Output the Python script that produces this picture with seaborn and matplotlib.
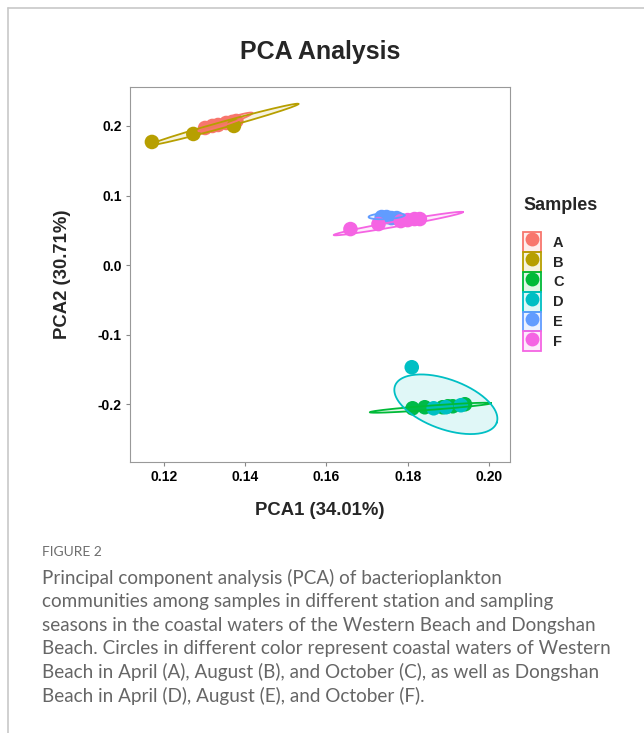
import numpy as np
import pandas as pd
import matplotlib
matplotlib.use("Agg")
import matplotlib.pyplot as plt
from matplotlib.patches import Rectangle
from matplotlib.lines import Line2D
from matplotlib.legend_handler import HandlerTuple
import seaborn as sns

# ---------------- data ----------------
groups = ["A", "B", "C", "D", "E", "F"]
colors = ["#F8766D", "#B79F00", "#00BA38", "#00BFC4", "#619CFF", "#F564E3"]

a_x = [0.1301, 0.1319, 0.1333, 0.1353, 0.1368, 0.1378]
a_y = [0.1971, 0.2000, 0.2014, 0.2043, 0.2058, 0.2072]
b_x = [0.1170, 0.1272, 0.1372]
b_y = [0.1770, 0.1885, 0.2000]
c_x = [0.1812, 0.1842, 0.1886, 0.1899, 0.1911, 0.1941]
c_y = [-0.2058, -0.2043, -0.2043, -0.2029, -0.2029, -0.2000]
d_x = [0.1810, 0.1864, 0.1894, 0.1931]
d_y = [-0.1468, -0.2058, -0.2043, -0.2014]
e_x = [0.1736, 0.1748, 0.1760, 0.1773]
e_y = [0.0691, 0.0691, 0.0676, 0.0676]
f_x = [0.1659, 0.1728, 0.1783, 0.1800, 0.1817, 0.1830]
f_y = [0.0518, 0.0590, 0.0633, 0.0647, 0.0662, 0.0662]

# confidence ellipses: centre, semi-major half vector (data units), minor/major ratio
ell_cx = [0.1351, 0.1348, 0.1856, 0.1894, 0.1748, 0.1777]
ell_cy = [0.2058, 0.2022, -0.2050, -0.2000, 0.0705, 0.0597]
ell_dx = [0.00667, 0.0183, 0.01494, 0.01252, 0.00444, 0.01593]
ell_dy = [0.0129, 0.0295, 0.0065, -0.0266, 0.0014, 0.0165]
ell_ratio = [0.10, 0.04, 0.035, 0.46, 0.17, 0.04]

xticks = [0.12, 0.14, 0.16, 0.18, 0.20]
yticks = [-0.2, -0.1, 0.0, 0.1, 0.2]

caption_lines = [
    "Principal component analysis (PCA) of bacterioplankton",
    "communities among samples in different station and sampling",
    "seasons in the coastal waters of the Western Beach and Dongshan",
    "Beach. Circles in different color represent coastal waters of Western",
    "Beach in April (A), August (B), and October (C), as well as Dongshan",
    "Beach in April (D), August (E), and October (F).",
]

xs = [a_x, b_x, c_x, d_x, e_x, f_x]
ys = [a_y, b_y, c_y, d_y, e_y, f_y]
df = pd.DataFrame({
    "PCA1": sum(xs, []),
    "PCA2": sum(ys, []),
    "Samples": sum([[g] * len(x) for g, x in zip(groups, xs)], []),
})

# ---------------- figure ----------------
sns.set_theme(style="white")
plt.rcParams["font.family"] = ["Liberation Sans", "DejaVu Sans"]

W, H = 644, 733
fig = plt.figure(figsize=(W / 100, H / 100), dpi=100)
ax = fig.add_axes([130 / W, 1 - 462 / H, 380 / W, 375 / H])

palette = dict(zip(groups, colors))
sns.scatterplot(data=df, x="PCA1", y="PCA2", hue="Samples", palette=palette,
                s=110, linewidth=0, alpha=1, legend=False, ax=ax, zorder=3)

ax.set_xlim(0.1116, 0.2052)
ax.set_ylim(-0.283, 0.256)
ax.set_xticks(xticks)
ax.set_xticklabels([f"{v:.2f}" for v in xticks])
ax.set_yticks(yticks)
ax.set_yticklabels([f"{v:.1f}" for v in yticks])
ax.tick_params(axis="both", which="both", length=3, width=0.8, color="#888888",
               labelsize=10, pad=3, bottom=True, left=True)
for lab in ax.get_xticklabels() + ax.get_yticklabels():
    lab.set_fontweight("bold")
    lab.set_color("black")
for sp in ax.spines.values():
    sp.set_color("#999999")
    sp.set_linewidth(0.8)

ax.set_xlabel("PCA1 (34.01%)", fontsize=13.3, fontweight="bold", labelpad=13)
ax.set_ylabel("PCA2 (30.71%)", fontsize=13.3, fontweight="bold", labelpad=19)

# ellipses built in display space, mapped back to data
fig.canvas.draw()
trans = ax.transData
inv = trans.inverted()
t = np.linspace(0, 2 * np.pi, 200)
for i, col in enumerate(colors):
    c = trans.transform((ell_cx[i], ell_cy[i]))
    e = trans.transform((ell_cx[i] + ell_dx[i], ell_cy[i] + ell_dy[i])) - c
    perp = np.array([-e[1], e[0]]) * ell_ratio[i]
    pts = c[None, :] + np.cos(t)[:, None] * e[None, :] + np.sin(t)[:, None] * perp[None, :]
    dpts = inv.transform(pts)
    ax.fill(dpts[:, 0], dpts[:, 1], color=col, alpha=0.12, lw=0, zorder=4)
    ax.plot(dpts[:, 0], dpts[:, 1], color=col, lw=1.3, zorder=5)

ax.set_title("PCA Analysis", fontsize=18, fontweight="bold", pad=20)

# legend
fig.text(523 / W, 1 - 205 / H, "Samples", fontsize=13, fontweight="bold",
         ha="left", va="center")
handles = []
for col in colors:
    box = Rectangle((0, 0), 1, 1, facecolor=matplotlib.colors.to_rgba(col, 0.12),
                    edgecolor=col, linewidth=1.3)
    dot = Line2D([], [], marker="o", linestyle="", markersize=10,
                 markerfacecolor=col, markeredgewidth=0)
    handles.append((box, dot))
leg = fig.legend(handles, groups,
                 handler_map={tuple: HandlerTuple(ndivide=1, pad=0)},
                 loc="upper left", bbox_to_anchor=(523 / W, 1 - 232 / H),
                 frameon=False, fontsize=10.5,
                 handlelength=1.25, handleheight=1.72, labelspacing=0.0,
                 handletextpad=0.8, borderaxespad=0, borderpad=0)
for txt in leg.get_texts():
    txt.set_fontweight("bold")

# outer frame (screenshot border)
fig.add_artist(Line2D([8 / W, 1], [1 - 8 / H, 1 - 8 / H], color="#c8c8c8", lw=1.2))
fig.add_artist(Line2D([8 / W, 8 / W], [0, 1 - 8 / H], color="#c8c8c8", lw=1.2))

# caption
cap_font = ["Lato", "DejaVu Sans"]
fig.text(42 / W, 1 - 552 / H, "FIGURE 2", fontsize=10, color="#6e6e6e",
         family=cap_font, va="center", ha="left")
for k, line in enumerate(caption_lines):
    fig.text(42 / W, 1 - (578 + 23.6 * k) / H, line, fontsize=13.6, color="#666666",
             family=cap_font, va="center", ha="left")

fig.savefig("out.png", dpi=100, facecolor="white")
